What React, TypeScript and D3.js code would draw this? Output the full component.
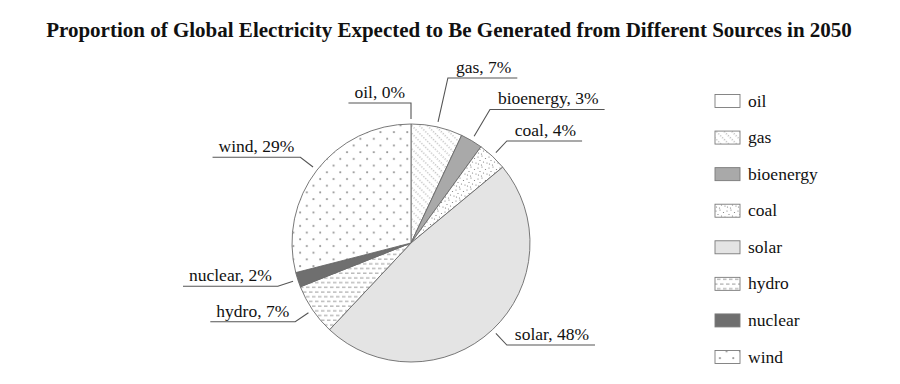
import React, { useRef, useEffect } from 'react'
import * as d3 from 'd3'

const sources = ['oil', 'gas', 'bioenergy', 'coal', 'solar', 'hydro', 'nuclear', 'wind']
const shares = [0, 7, 3, 4, 48, 7, 2, 29]
const fills = [
  '#ffffff',
  'url(#pat-gas)',
  '#a9a9a9',
  'url(#pat-coal)',
  '#e4e4e4',
  'url(#pat-hydro)',
  '#6f6f6f',
  'url(#pat-wind)'
]

const TITLE = 'Proportion of Global Electricity Expected to Be Generated from Different Sources in 2050'
const FONT = '"Liberation Serif", "Times New Roman", serif'

const W = 900
const H = 384

const App: React.FC = () => {
  const svgRef = useRef<SVGSVGElement>(null)

  useEffect(() => {
    if (!svgRef.current) return
    const svg = d3.select(svgRef.current)
    svg.selectAll('*').remove()

    const cx = 411
    const cy = 243
    const r = 119

    // patterns
    const defs = svg.append('defs')

    const gas = defs.append('pattern')
      .attr('id', 'pat-gas')
      .attr('patternUnits', 'userSpaceOnUse')
      .attr('width', 5.5).attr('height', 5.5)
      .attr('patternTransform', 'rotate(-45)')
    gas.append('rect').attr('width', 5.5).attr('height', 5.5).attr('fill', '#fff')
    gas.append('line')
      .attr('x1', 1).attr('y1', 0).attr('x2', 1).attr('y2', 5.5)
      .attr('stroke', '#8a8a8a').attr('stroke-width', 0.8)
      .attr('stroke-dasharray', '1.2,1.55')

    const coal = defs.append('pattern')
      .attr('id', 'pat-coal')
      .attr('patternUnits', 'userSpaceOnUse')
      .attr('width', 11).attr('height', 11)
    coal.append('rect').attr('width', 11).attr('height', 11).attr('fill', '#fff')
    const coalDots: [number, number][] = [[1, 2], [5, 1], [8.5, 3.5], [3, 5.5], [6.5, 7], [10, 8], [1.5, 9], [4.5, 10]]
    coalDots.forEach(([x, y]) => {
      coal.append('circle').attr('cx', x).attr('cy', y).attr('r', 0.6).attr('fill', '#777')
    })

    const hydro = defs.append('pattern')
      .attr('id', 'pat-hydro')
      .attr('patternUnits', 'userSpaceOnUse')
      .attr('width', 6).attr('height', 9.4)
    hydro.append('rect').attr('width', 6).attr('height', 9.4).attr('fill', '#fff')
    hydro.append('line')
      .attr('x1', 0).attr('y1', 2).attr('x2', 3.5).attr('y2', 2)
      .attr('stroke', '#8a8a8a').attr('stroke-width', 0.9)
    hydro.append('line')
      .attr('x1', 3).attr('y1', 6.7).attr('x2', 6).attr('y2', 6.7)
      .attr('stroke', '#8a8a8a').attr('stroke-width', 0.9)
    hydro.append('line')
      .attr('x1', 0).attr('y1', 6.7).attr('x2', 0.5).attr('y2', 6.7)
      .attr('stroke', '#8a8a8a').attr('stroke-width', 0.9)

    const wind = defs.append('pattern')
      .attr('id', 'pat-wind')
      .attr('patternUnits', 'userSpaceOnUse')
      .attr('width', 13.4).attr('height', 13.4)
    wind.append('rect').attr('width', 13.4).attr('height', 13.4).attr('fill', '#fff')
    const windDots: [number, number][] = [[3, 3], [9.7, 9.7]]
    windDots.forEach(([x, y]) => {
      wind.append('path')
        .attr('d', `M${x - 1},${y}H${x + 1}M${x},${y - 1}V${y + 1}`)
        .attr('stroke', '#777').attr('stroke-width', 0.8)
    })

    // title
    svg.append('text')
      .attr('x', 449)
      .attr('y', 37)
      .attr('text-anchor', 'middle')
      .attr('font-family', FONT)
      .attr('font-weight', 'bold')
      .attr('font-size', 21)
      .attr('fill', '#111')
      .text(TITLE)

    // pie
    const pie = d3.pie<number>().sort(null).value(d => d)
    const arcs = pie(shares)
    const arcGen = d3.arc<d3.PieArcDatum<number>>().innerRadius(0).outerRadius(r)

    const g = svg.append('g').attr('transform', `translate(${cx},${cy})`)
    g.selectAll('path.slice')
      .data(arcs)
      .enter().append('path')
      .attr('class', 'slice')
      .attr('d', arcGen)
      .attr('fill', (d, i) => fills[i])
      .attr('stroke', '#6a6a6a')
      .attr('stroke-width', 0.9)

    // labels: natural position on a ring, then pushed apart per side
    const rNatural = 140
    const gap = 31.5
    type Lab = { i: number; a: number; side: number; y: number; text: string }
    const labs: Lab[] = arcs.map((d, i) => {
      const a = (d.startAngle + d.endAngle) / 2
      return {
        i,
        a,
        side: Math.sin(a) > 1e-6 ? 1 : -1,
        y: -Math.cos(a) * rNatural,
        text: `${sources[i]}, ${shares[i]}%`
      }
    })
    ;[1, -1].forEach(side => {
      const s = labs.filter(l => l.side === side).sort((a, b) => a.y - b.y)
      for (let k = s.length - 2; k >= 0; k--) {
        if (s[k].y > s[k + 1].y - gap) s[k].y = s[k + 1].y - gap
      }
    })

    const lg = g.append('g')
    labs.forEach(l => {
      const sx = Math.sin(l.a) * (r + 5)
      const sy = -Math.cos(l.a) * (r + 5)
      const c = -Math.cos(l.a)
      const rr = Math.abs(c) > 0.05 ? l.y / c : rNatural
      const ex = Math.sin(l.a) * rr
      const ey = l.y

      const t = lg.append('text')
        .attr('font-family', FONT)
        .attr('font-size', 17.5)
        .attr('fill', '#111')
        .attr('y', ey - 5)
        .text(l.text)
      const tw = (t.node() as SVGTextElement).getComputedTextLength()
      const pad = 6
      if (l.side > 0) {
        t.attr('x', ex + pad + 2)
      } else {
        t.attr('x', ex - pad - tw)
      }
      const hx = l.side > 0 ? ex + tw + pad * 2 + 2 : ex - tw - pad * 2
      lg.append('path')
        .attr('d', `M${sx},${sy}L${ex},${ey}L${hx},${ey}`)
        .attr('fill', 'none')
        .attr('stroke', '#555')
        .attr('stroke-width', 1.1)
    })

    // legend
    const legY = d3.scalePoint<string>().domain(sources).range([101, 357])
    const leg = svg.append('g')
    sources.forEach((s, i) => {
      const y = legY(s) as number
      leg.append('rect')
        .attr('x', 715).attr('y', y - 6.5)
        .attr('width', 25).attr('height', 13)
        .attr('fill', fills[i])
        .attr('stroke', '#7a7a7a')
        .attr('stroke-width', 0.9)
      leg.append('text')
        .attr('x', 748).attr('y', y + 5.5)
        .attr('font-family', FONT)
        .attr('font-size', 17.5)
        .attr('fill', '#111')
        .text(s)
    })
  }, [])

  return (
    <svg
      ref={svgRef}
      width={W}
      height={H}
      style={{ position: 'absolute', left: 0, top: 0, background: '#fff', display: 'block' }}
    />
  )
}

export default App
